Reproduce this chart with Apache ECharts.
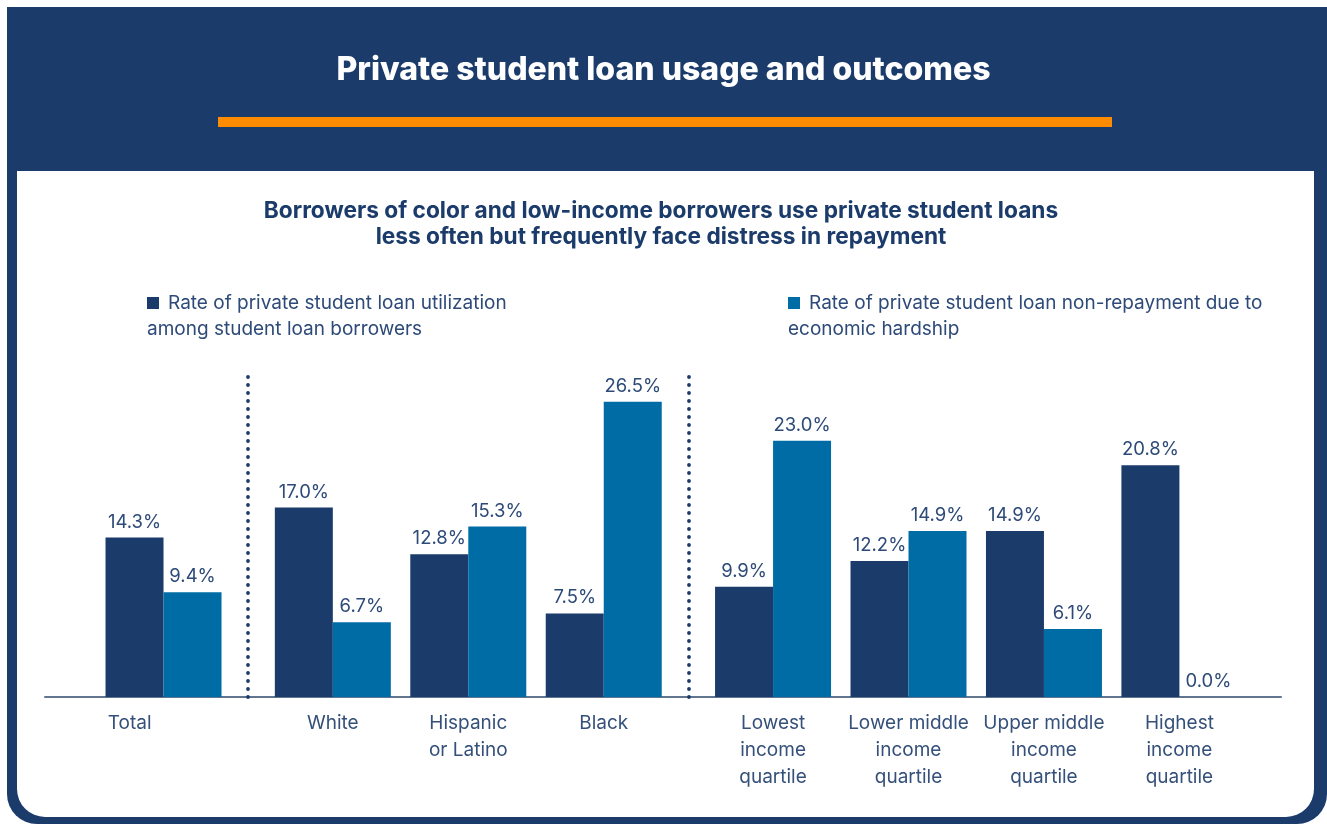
<!DOCTYPE html>
<html>
<head>
<meta charset="utf-8">
<script src="https://cdn.jsdelivr.net/npm/echarts@6/dist/echarts.min.js"></script>
<style>
html,body{margin:0;padding:0;background:#fff;}
#chart{width:1327px;height:824px;}
</style>
</head>
<body>
<div id="chart"></div>
<script>
// ---- data ----
const categories = ['Total', 'White', 'Hispanic\nor Latino', 'Black', 'Lowest\nincome\nquartile', 'Lower middle\nincome\nquartile', 'Upper middle\nincome\nquartile', 'Highest\nincome\nquartile'];
const utilization = [14.3, 17.0, 12.8, 7.5, 9.9, 12.2, 14.9, 20.8];
const nonRepayment = [9.4, 6.7, 15.3, 26.5, 23.0, 14.9, 6.1, 0.0];
const seriesNames = ['Rate of private student loan utilization\namong student loan borrowers', 'Rate of private student loan non-repayment due to\neconomic hardship'];
const mainTitle = 'Private student loan usage and outcomes';
const subTitle = 'Borrowers of color and low-income borrowers use private student loans\nless often but frequently face distress in repayment';

// ---- layout (group slots on the x axis) ----
const barSlots = [0, 5, 9, 13, 18, 22, 26, 30];
const labelSlots = [-1, 5, 9, 13, 18, 22, 26, 30];
const separators = [2.5, 15.5];

const NAVY = '#1b3b6b';
const BLUE = '#006ca5';
const TEXT = '#2d4a78';
const FONT = 'Inter, "Liberation Sans", sans-serif';

const chart = echarts.init(document.getElementById('chart'));

function legendText(name) {
  return '{sq|}{sp|}' + name;
}

chart.setOption({
  backgroundColor: '#ffffff',
  animation: false,
  graphic: [
    { type: 'rect', z: -10, shape: { x: 7, y: 7, width: 1320, height: 817, r: [0, 0, 30, 30] }, style: { fill: NAVY } },
    { type: 'rect', z: -9, shape: { x: 17, y: 171, width: 1297, height: 646, r: [0, 0, 28, 28] }, style: { fill: '#ffffff' } },
    { type: 'rect', z: -8, shape: { x: 218, y: 117, width: 894, height: 10 }, style: { fill: '#ff8c00' } },
    { type: 'text', z: 5, x: 661, y: 224,
      style: { text: subTitle, align: 'center', verticalAlign: 'middle', fill: NAVY,
        font: '700 22.7px ' + FONT, lineHeight: 26 } }
  ],
  title: [
    { text: mainTitle, left: 'center', top: 54, padding: 0,
      textStyle: { color: '#ffffff', fontSize: 32, fontWeight: 800, fontFamily: FONT } },
    { text: legendText(seriesNames[0]), left: 147, top: 290, padding: 0,
      textStyle: { color: TEXT, fontSize: 19, fontWeight: 'normal', lineHeight: 26, fontFamily: FONT,
        rich: { sq: { width: 12, height: 12, backgroundColor: NAVY }, sp: { width: 9 } } } },
    { text: legendText(seriesNames[1]), left: 788, top: 290, padding: 0,
      textStyle: { color: TEXT, fontSize: 19, fontWeight: 'normal', lineHeight: 26, fontFamily: FONT,
        rich: { sq: { width: 12, height: 12, backgroundColor: BLUE }, sp: { width: 9 } } } }
  ],
  grid: { left: 45, right: 46, top: 376, bottom: 127, containLabel: false },
  xAxis: {
    type: 'value', min: -3.5, max: 33, interval: 0.5,
    splitLine: { show: false },
    axisTick: { show: false },
    axisLine: { show: true, onZero: false, lineStyle: { color: '#61758f', width: 2 } },
    axisLabel: {
      show: true, margin: 13, showMinLabel: true, showMaxLabel: true,
      color: '#35507a', fontSize: 19, lineHeight: 27, fontFamily: FONT,
      formatter: function (v) {
        for (let i = 0; i < labelSlots.length; i++) {
          if (Math.abs(labelSlots[i] - v) < 1e-6) return categories[i];
        }
        return '';
      }
    }
  },
  yAxis: { type: 'value', min: 0, max: 28.8, show: false, splitLine: { show: false } },
  series: [
    {
      name: 'utilization', type: 'bar', barWidth: 58, barGap: '0%',
      itemStyle: { color: NAVY },
      data: utilization.map((v, i) => [barSlots[i], v]),
      label: { show: true, position: 'top', distance: 6, color: TEXT, fontSize: 18.5, fontFamily: FONT,
        formatter: p => p.value[1].toFixed(1) + '%' }
    },
    {
      name: 'nonRepayment', type: 'bar', barWidth: 58, barGap: '0%',
      itemStyle: { color: BLUE },
      data: nonRepayment.map((v, i) => [barSlots[i], v]),
      label: { show: true, position: 'top', distance: 6, color: TEXT, fontSize: 18.5, fontFamily: FONT,
        formatter: p => p.value[1].toFixed(1) + '%' }
    },
    {
      name: 'separators', type: 'line', data: [], silent: true,
      markLine: {
        silent: true, symbol: 'none', label: { show: false },
        lineStyle: { color: NAVY, width: 3.8, type: [0, 8], cap: 'round' },
        data: separators.map(s => ({ xAxis: s }))
      }
    }
  ]
});
</script>
</body>
</html>
